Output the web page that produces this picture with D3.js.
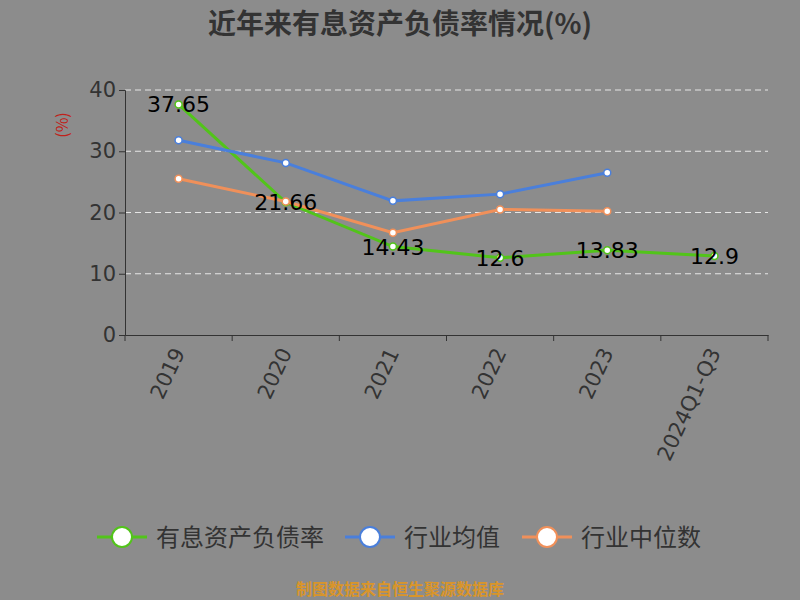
<!DOCTYPE html>
<html><head><meta charset="utf-8">
<script src="https://cdn.jsdelivr.net/npm/d3@7"></script>
<style>body{margin:0;background:#8c8c8c;font-family:"Noto Sans CJK SC",sans-serif}</style>
</head><body><div id="chart"></div>
<script>
const categories = ["2019", "2020", "2021", "2022", "2023", "2024Q1-Q3"];
const debtRatio = [37.65, 21.66, 14.43, 12.6, 13.83, 12.9];
const industryAvg = [31.8, 28.1, 21.9, 23.0, 26.5];
const industryMedian = [25.5, 21.8, 16.7, 20.5, 20.2];
const yTicks = [0, 10, 20, 30, 40];

const svg = d3.select("#chart").append("svg").attr("width", 800).attr("height", 600);
const margin = {left: 125, right: 32, top: 90, bottom: 265};
const x = d3.scaleBand().domain(categories).range([margin.left, 800 - margin.right]);
const y = d3.scaleLinear().domain([0, 40]).range([600 - margin.bottom, margin.top]);
const cx = d => x(d) + x.bandwidth() / 2;

svg.append("text").attr("x", 400).attr("y", 34).attr("text-anchor", "middle")
    .attr("font-size", 28).attr("font-weight", "bold").attr("fill", "#333").text("近年来有息资产负债率情况(%)");

// grid lines
svg.selectAll(".grid").data(yTicks.slice(1)).enter().append("line")
    .attr("x1", margin.left).attr("x2", 800 - margin.right)
    .attr("y1", d => y(d)).attr("y2", d => y(d))
    .attr("stroke", "#e6e6e6").attr("stroke-dasharray", "6,4");

// y axis
const ya = svg.append("g").attr("transform", `translate(${margin.left},0)`)
    .call(d3.axisLeft(y).tickValues(yTicks).tickSize(6));
ya.select(".domain").attr("stroke", "#333");
ya.selectAll("line").attr("stroke", "#333");
ya.selectAll("text").attr("font-size", 21).attr("fill", "#333").attr("font-family", "DejaVu Sans");

svg.append("text").attr("transform", "rotate(-90)").attr("x", -125).attr("y", 68)
    .attr("text-anchor", "middle").attr("font-size", 16).attr("fill", "#c0211a").text("(%)");

// x axis
const xa = svg.append("g").attr("transform", `translate(0,${y(0)})`)
    .call(d3.axisBottom(x).tickSize(0));
xa.select(".domain").attr("stroke", "#333");
xa.selectAll(".tick text").attr("font-size", 21).attr("fill", "#333").attr("font-family", "DejaVu Sans")
    .attr("text-anchor", "end").attr("dy", 0)
    .attr("transform", "translate(4,16) rotate(-65)");
const edges = categories.map(c => x(c)).concat([800 - margin.right]);
svg.selectAll(".xt").data(edges).enter().append("line")
    .attr("x1", d => d).attr("x2", d => d).attr("y1", y(0)).attr("y2", y(0) + 6).attr("stroke", "#333");

const series = [
    {name: "有息资产负债率", values: debtRatio, color: "#52c41a"},
    {name: "行业均值", values: industryAvg, color: "#4a7fdb"},
    {name: "行业中位数", values: industryMedian, color: "#f0905a"}
];
const line = d3.line().x((d, i) => cx(categories[i])).y(d => y(d));
series.forEach(s => {
    svg.append("path").datum(s.values).attr("d", line).attr("fill", "none")
        .attr("stroke", s.color).attr("stroke-width", 3);
    svg.selectAll(null).data(s.values).enter().append("circle")
        .attr("cx", (d, i) => cx(categories[i])).attr("cy", d => y(d)).attr("r", 3.5)
        .attr("fill", "#fff").attr("stroke", s.color).attr("stroke-width", 1.5);
});
svg.selectAll(".lbl").data(debtRatio).enter().append("text")
    .attr("x", (d, i) => cx(categories[i])).attr("y", d => y(d) + 8)
    .attr("text-anchor", "middle").attr("font-size", 22).attr("fill", "#000")
    .attr("font-family", "DejaVu Sans").text(d => d);

// legend
const lx = [97, 345, 522];
series.forEach((s, i) => {
    const g = svg.append("g").attr("transform", `translate(${lx[i]},537)`);
    g.append("line").attr("x1", 0).attr("x2", 50).attr("stroke", s.color).attr("stroke-width", 3);
    g.append("circle").attr("cx", 25).attr("r", 10).attr("fill", "#fff").attr("stroke", s.color).attr("stroke-width", 2);
    g.append("text").attr("x", 59).attr("y", 9).attr("font-size", 24).attr("fill", "#333").text(s.name);
});

svg.append("text").attr("x", 400).attr("y", 595).attr("text-anchor", "middle")
    .attr("font-size", 16).attr("font-weight", "bold").attr("fill", "#d9952a").text("制图数据来自恒生聚源数据库");
</script></body></html>
